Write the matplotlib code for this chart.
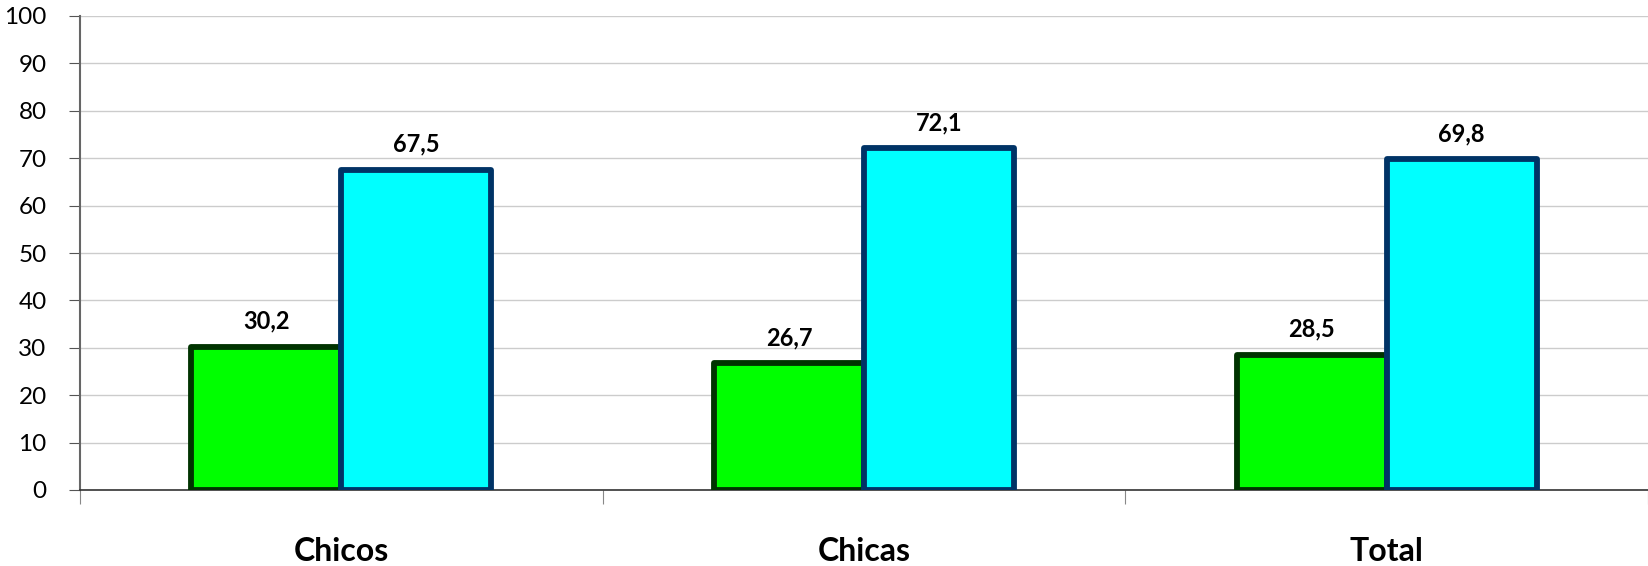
import numpy as np
import matplotlib.pyplot as plt

# datos
categorias = ['Chicos', 'Chicas', 'Total']
serie_a = [30.2, 26.7, 28.5]
serie_b = [67.5, 72.1, 69.8]
yticks = list(range(0, 101, 10))

plt.rcParams['font.family'] = ['Lato', 'DejaVu Sans']

fig = plt.figure(figsize=(16.48, 5.66), dpi=100)
ax = fig.add_axes([80/1648, 1 - 490/566, 1568/1648, 474/566])

x = np.arange(len(categorias))
w = 0.287

b1 = ax.bar(x - w/2, serie_a, w, color='#00ff00', edgecolor='#003300',
            linewidth=4.2, joinstyle='round', zorder=3)
b2 = ax.bar(x + w/2, serie_b, w, color='#00ffff', edgecolor='#003366',
            linewidth=4.2, joinstyle='round', zorder=3)

for rects, vals in ((b1, serie_a), (b2, serie_b)):
    for r, v in zip(rects, vals):
        ax.text(r.get_x() + r.get_width()/2, v + 3, f"{v:.1f}".replace('.', ','),
                ha='center', va='bottom', fontsize=17, fontweight='bold')

ax.set_xlim(-0.5, len(categorias) - 0.5)
ax.set_ylim(0, 100)
ax.set_yticks(yticks)
ax.set_yticklabels([str(t) for t in yticks], fontsize=17.5)
ax.yaxis.grid(True, color='#cccccc', linewidth=1)
ax.set_axisbelow(True)

ax.set_xticks(np.arange(-0.5, len(categorias) - 0.4, 1.0))
ax.set_xticklabels([])
ax.set_xticks(x, minor=True)
ax.set_xticklabels(categorias, minor=True, fontsize=23, fontweight='bold')
ax.tick_params(axis='x', which='major', length=10, color='#888888')
ax.tick_params(axis='x', which='minor', length=0, pad=34)
ax.tick_params(axis='y', length=8, color='#555555', pad=16)

for s in ('top', 'right'):
    ax.spines[s].set_visible(False)
ax.spines['left'].set_color('#666666')
ax.spines['left'].set_linewidth(1.5)
ax.spines['bottom'].set_color('#333333')
ax.spines['bottom'].set_linewidth(1.2)

fig.savefig('out.png', dpi=100)
